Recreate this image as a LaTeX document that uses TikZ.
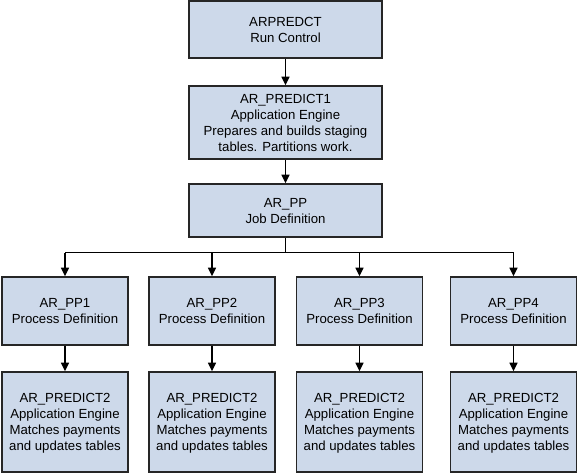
\documentclass[tikz,border=0pt]{standalone}
\usepackage{fontspec}
\setmainfont{Liberation Sans}
\usetikzlibrary{arrows.meta}
\definecolor{boxfill}{HTML}{CDD9EA}
\definecolor{boxline}{HTML}{262626}
\begin{document}
\begin{tikzpicture}[x=1pt,y=-1pt,
  box/.style={draw=boxline,fill=boxfill,line width=1.6pt,align=center,
    font=\fontsize{13.2}{16}\selectfont,inner sep=0pt,text depth=0pt},
  conn/.style={line width=1.3pt,draw=black},
  arr/.style={conn,-{Triangle[width=8pt,length=8.5pt]}}]
\useasboundingbox (0,0) rectangle (578,474);
\node[box,minimum width=193pt,minimum height=57pt] (rc) at (285.5,29.5) {ARPREDCT\\Run Control};
\node[box,minimum width=193pt,minimum height=73pt] (top) at (285.5,122.5) {AR\_PREDICT1\\Application Engine\\Prepares and builds staging\\tables. Partitions work.};
\node[box,minimum width=193pt,minimum height=53pt] (jd) at (285.5,210.5) {AR\_PP\\Job Definition};
\foreach \i/\x in {1/65,2/212,3/359.5,4/513.5}{
  \node[box,minimum width=126pt,minimum height=68pt] (pp\i) at (\x,311) {AR\_PP\i\\Process Definition};
  \node[box,minimum width=126pt,minimum height=100pt] (eng\i) at (\x,422) {AR\_PREDICT2\\Application Engine\\Matches payments\\and updates tables};
  \draw[arr] (pp\i.south) -- (eng\i.north);
}
\coordinate (split) at (285.5,252.5);
\draw[arr] (rc.south) -- (top.north);
\draw[arr] (top.south) -- (jd.north);
\draw[conn] (jd.south) -- (split);
\draw[conn] (pp1.north |- split) -- (pp4.north |- split);
\foreach \i in {1,2,3,4}{
  \draw[arr] (pp\i.north |- split) -- (pp\i.north);
}
\end{tikzpicture}
\end{document}
